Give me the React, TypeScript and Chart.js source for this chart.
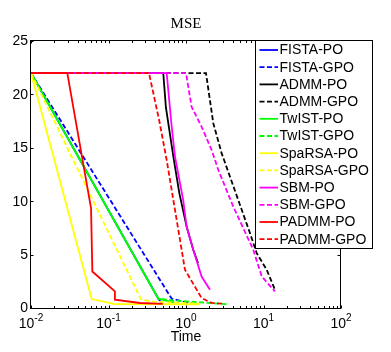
import { useEffect, useRef } from "react";
import { Chart, registerables } from "chart.js";

Chart.register(...registerables);

// ---- Axis ticks ----
const xMajorTicks = [0.01, 0.1, 1, 10, 100];
const xTickExponents = ["-2", "-1", "0", "1", "2"];
const yTicks = [0, 5, 10, 15, 20, 25];

// ---- Series meta ----
const seriesNames = [
  "FISTA-PO", "FISTA-GPO", "ADMM-PO", "ADMM-GPO", "TwIST-PO", "TwIST-GPO",
  "SpaRSA-PO", "SpaRSA-GPO", "SBM-PO", "SBM-GPO", "PADMM-PO", "PADMM-GPO",
];
const seriesColors = [
  "#0000ff", "#0000ff", "#000000", "#000000", "#00ff00", "#00ff00",
  "#ffff00", "#ffff00", "#ff00ff", "#ff00ff", "#ff0000", "#ff0000",
];
const seriesDashed = [false, true, false, true, false, true, false, true, false, true, false, true];

// ---- Series values (time, MSE) ----
const fistaPoX = [0.01, 0.44, 0.505];
const fistaPoY = [22, 0.87, 0.3];
const fistaGpoX = [0.01, 0.654, 0.92, 1.23];
const fistaGpoY = [22, 0.87, 0.59, 0.42];
const admmPoX = [0.01, 0.509, 0.55, 0.686, 0.82, 1.02, 1.24, 1.43];
const admmPoY = [22, 22, 18.8, 14.2, 10.75, 7.6, 5.45, 4.2];
const admmGpoX = [0.01, 1.81, 2.25, 2.88, 4.73, 6.7, 8.17, 11, 14.06];
const admmGpoY = [22, 22, 17.3, 14.5, 10.1, 7.0, 5.14, 3.58, 1.71];
const twistPoX = [0.01, 0.44, 0.7];
const twistPoY = [22, 0.87, 0.5];
const twistGpoX = [0.01, 0.44, 0.7, 3.5];
const twistGpoY = [22, 0.87, 0.7, 0.35];
const sparsaPoX = [0.01, 0.0607, 0.121, 1.5];
const sparsaPoY = [22, 0.84, 0.37, 0.35];
const sparsaGpoX = [0.01, 0.262, 0.35, 1.5];
const sparsaGpoY = [22, 0.82, 0.6, 0.4];
const sbmPoX = [0.01, 0.563, 0.654, 0.72, 0.92, 1.02, 1.24, 1.59, 2.04];
const sbmPoY = [22, 22, 16.97, 14.2, 10.1, 7.6, 5.45, 2.95, 1.71];
const sbmGpoX = [0.01, 1.0, 1.18, 1.59, 2.14, 2.62, 4.07, 7.38, 9.5, 14.06];
const sbmGpoY = [22, 22, 18.84, 16.97, 14.8, 12.9, 9.5, 5.45, 2.95, 1.55];
const padmmPoX = [0.01, 0.0294, 0.0595, 0.0619, 0.121, 0.121, 0.255, 0.5];
const padmmPoY = [22, 22, 9.35, 3.42, 1.55, 0.78, 0.47, 0.38];
const padmmGpoX = [0.01, 0.333, 0.45, 0.563, 0.97, 1.59, 2.14, 3.0];
const padmmGpoY = [22, 22, 17.6, 13.86, 3.58, 0.93, 0.47, 0.4];

const seriesX = [fistaPoX, fistaGpoX, admmPoX, admmGpoX, twistPoX, twistGpoX, sparsaPoX, sparsaGpoX, sbmPoX, sbmGpoX, padmmPoX, padmmGpoX];
const seriesY = [fistaPoY, fistaGpoY, admmPoY, admmGpoY, twistPoY, twistGpoY, sparsaPoY, sparsaGpoY, sbmPoY, sbmGpoY, padmmPoY, padmmGpoY];

const SANS = '"Liberation Sans", Arial, Helvetica, sans-serif';
const SERIF = '"Liberation Serif", "Times New Roman", serif';
const DASH = [5, 2.5];
const LW = 1.8;

const decorPlugin = {
  id: "matlabDecor",
  afterDraw(chart: any) {
    const ctx = chart.ctx as CanvasRenderingContext2D;
    const ca = chart.chartArea;
    const xs = chart.scales.x;
    const ys = chart.scales.y;
    const L = Math.round(ca.left) - 0.5;
    const R = Math.round(ca.right) - 0.5;
    const T = Math.round(ca.top) - 0.5;
    const B = Math.round(ca.bottom) + 0.5;
    const tl = 3;
    ctx.save();
    ctx.strokeStyle = "#000";
    ctx.lineWidth = 1;
    ctx.setLineDash([]);
    // box
    ctx.strokeRect(L, T, R - L, B - T);
    // y ticks
    ctx.beginPath();
    for (const v of yTicks) {
      const p = Math.round(ys.getPixelForValue(v)) + 0.5;
      ctx.moveTo(L, p); ctx.lineTo(L + tl, p);
      ctx.moveTo(R, p); ctx.lineTo(R - tl, p);
    }
    // x ticks (major + minor)
    for (let d = 0; d < xMajorTicks.length; d++) {
      const base = xMajorTicks[d];
      const mults = d < xMajorTicks.length - 1 ? [1, 2, 3, 4, 5, 6, 7, 8, 9] : [1];
      for (const m of mults) {
        const p = Math.round(xs.getPixelForValue(base * m)) + 0.5;
        const len = m === 1 ? tl : tl - 0.5;
        ctx.moveTo(p, B); ctx.lineTo(p, B - len);
        ctx.moveTo(p, T); ctx.lineTo(p, T + len);
      }
    }
    ctx.stroke();

    // y labels
    ctx.fillStyle = "#000";
    ctx.font = `14px ${SANS}`;
    ctx.textAlign = "right";
    ctx.textBaseline = "middle";
    for (const v of yTicks) {
      ctx.fillText(String(v), ca.left - 3, ys.getPixelForValue(v) + 0.5);
    }
    // x labels with superscripts
    ctx.textBaseline = "alphabetic";
    ctx.textAlign = "left";
    for (let i = 0; i < xMajorTicks.length; i++) {
      const p = xs.getPixelForValue(xMajorTicks[i]);
      ctx.font = `14px ${SANS}`;
      const w1 = ctx.measureText("10").width;
      ctx.font = `10px ${SANS}`;
      const w2 = ctx.measureText(xTickExponents[i]).width;
      const x0 = p - (w1 + w2) / 2;
      ctx.font = `14px ${SANS}`;
      ctx.fillText("10", x0, ca.bottom + 20);
      ctx.font = `10px ${SANS}`;
      ctx.fillText(xTickExponents[i], x0 + w1, ca.bottom + 12.5);
    }
    // axis label
    const cx = (ca.left + ca.right) / 2;
    ctx.font = `14px ${SANS}`;
    ctx.textAlign = "center";
    ctx.textBaseline = "middle";
    ctx.fillText("Time", cx, ca.bottom + 29);
    // title
    ctx.font = `15px ${SERIF}`;
    ctx.fillText("MSE", cx, ca.top - 17);

    // legend
    const lx = Math.round(ca.right) - 85 - 0.5;
    const ly = T;
    const lw = 117;
    const lh = 208;
    ctx.fillStyle = "#fff";
    ctx.fillRect(lx, ly, lw, lh);
    ctx.strokeStyle = "#000";
    ctx.lineWidth = 1;
    ctx.strokeRect(lx, ly, lw, lh);
    ctx.font = `14px ${SANS}`;
    ctx.textAlign = "left";
    ctx.textBaseline = "middle";
    for (let i = 0; i < seriesNames.length; i++) {
      const yy = ly + 9.5 + i * 17.2;
      ctx.beginPath();
      ctx.strokeStyle = seriesColors[i];
      ctx.lineWidth = LW;
      ctx.setLineDash(seriesDashed[i] ? DASH : []);
      ctx.moveTo(lx + 4, yy);
      ctx.lineTo(lx + 22.5, yy);
      ctx.stroke();
      ctx.setLineDash([]);
      ctx.fillStyle = "#000";
      ctx.fillText(seriesNames[i], lx + 24, yy + 0.5);
    }
    ctx.restore();
  },
};

export default function App() {
  const ref = useRef<HTMLCanvasElement | null>(null);
  useEffect(() => {
    if (!ref.current) return;
    const datasets = seriesNames.map((name, i) => ({
      label: name,
      data: seriesX[i].map((x, j) => ({ x, y: seriesY[i][j] })),
      borderColor: seriesColors[i],
      backgroundColor: seriesColors[i],
      borderWidth: LW,
      borderDash: seriesDashed[i] ? DASH : [],
      pointRadius: 0,
      tension: 0,
      fill: false,
      order: seriesNames.length - i,
    }));
    const chart = new Chart(ref.current, {
      type: "line",
      data: { datasets },
      options: {
        animation: false,
        responsive: false,
        devicePixelRatio: 1,
        layout: { padding: { left: 31, top: 41, right: 50, bottom: 44 } },
        plugins: { legend: { display: false }, title: { display: false }, tooltip: { enabled: false } },
        scales: {
          x: { type: "logarithmic", min: 0.01, max: 100, display: false },
          y: { type: "linear", min: 0, max: 25, display: false },
        },
      },
      plugins: [decorPlugin],
    } as any);
    return () => chart.destroy();
  }, []);
  return (
    <div style={{ position: "fixed", left: 0, top: 0, width: 391, height: 352, background: "#fff" }}>
      <canvas ref={ref} width={391} height={352} style={{ display: "block" }} />
    </div>
  );
}
